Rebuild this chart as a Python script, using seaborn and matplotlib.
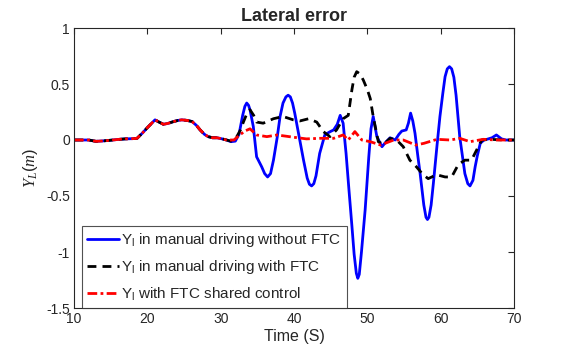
import numpy as np
import pandas as pd
import matplotlib
matplotlib.use("Agg")
import matplotlib.pyplot as plt
import seaborn as sns

# ---- data ----
early_t = [10, 11, 12, 13, 14, 15, 16, 17, 18, 18.6, 19.3, 20.0, 20.6, 21.05, 21.6, 22.2, 22.9,
           23.6, 24.2, 24.7, 25.4, 26.1, 26.7, 27.2, 27.8, 28.3, 28.9, 29.5, 30.2, 30.8]
early_y = [0.0, 0.0, 0.0, -0.012, -0.008, -0.002, 0.005, 0.01, 0.012, 0.015, 0.06, 0.11, 0.15, 0.18,
           0.16, 0.14, 0.15, 0.165, 0.175, 0.18, 0.175, 0.165, 0.13, 0.09, 0.05, 0.03, 0.02, 0.02,
           0.01, 0.0]

blue_t = early_t + [31.4, 32.0, 32.5, 33.0, 33.3, 33.55, 33.8, 34.0, 34.45, 34.9, 35.6, 36.0, 36.4,
                    36.8, 37.2, 37.7, 38.1, 38.5, 38.9, 39.2, 39.5, 39.8, 40.1, 40.7, 41.3, 41.8,
                    42.1, 42.4, 42.7, 43.0, 43.5, 44.2, 44.8, 45.4, 45.9, 46.3, 46.7, 47.1, 47.5,
                    47.9, 48.2, 48.5, 48.7, 48.9, 49.2, 49.7, 50.2, 50.5, 50.8, 51.3, 52.0, 52.5,
                    53.1, 53.8, 54.3, 54.7, 55.3, 55.6, 55.9, 56.2, 56.5, 56.9, 57.2, 57.7, 58.0,
                    58.2, 58.4, 58.7, 59.0, 59.5, 59.9, 60.3, 60.6, 60.9, 61.2, 61.5, 61.8, 62.1,
                    62.6, 63.3, 63.7, 64.0, 64.4, 64.7, 65.0, 65.4, 65.9, 66.3, 67.0, 67.6, 68.3,
                    68.9, 70.0]
blue_y = early_y + [-0.015, -0.01, 0.05, 0.22, 0.30, 0.33, 0.31, 0.27, 0.12, -0.15, -0.24, -0.3,
                    -0.33, -0.3, -0.18, 0.02, 0.21, 0.33, 0.385, 0.40, 0.385, 0.33, 0.24, 0.03,
                    -0.18, -0.34, -0.395, -0.41, -0.39, -0.32, -0.12, 0.045, 0.07, 0.09, 0.14, 0.22,
                    0.15, -0.12, -0.45, -0.77, -1.02, -1.19, -1.235, -1.2, -1.0, -0.625, -0.15, 0.1,
                    0.21, 0.03, -0.06, -0.02, 0.02, 0.0, 0.05, 0.08, 0.09, 0.15, 0.24, 0.17, 0.06,
                    -0.15, -0.30, -0.58, -0.69, -0.71, -0.69, -0.58, -0.39, -0.05, 0.21, 0.42, 0.565,
                    0.635, 0.655, 0.635, 0.56, 0.40, 0.03, -0.30, -0.39, -0.41, -0.36, -0.24, -0.14,
                    -0.03, 0.0, 0.006, 0.02, 0.045, 0.01, 0.0, 0.0]

black_t = early_t + [31.4, 32.2, 32.7, 33.1, 33.6, 34.0, 34.5, 34.9, 35.8, 36.5, 37.2, 38.5, 39.9,
                     40.8, 42.0, 43.1, 44.0, 44.9, 45.8, 46.7, 47.4, 47.9, 48.2, 48.55, 49.0, 49.45,
                     50.0, 50.4, 50.8, 51.5, 52.2, 53.1, 54.0, 54.9, 55.8, 56.7, 57.6, 58.3, 59.45,
                     60.6, 61.5, 62.4, 63.3, 64.2, 64.9, 65.6, 66.8, 68.6, 70.0]
black_y = early_y + [-0.01, 0.03, 0.09, 0.16, 0.24, 0.27, 0.22, 0.16, 0.15, 0.17, 0.19, 0.21, 0.18,
                     0.17, 0.19, 0.16, 0.075, 0.03, 0.09, 0.19, 0.22, 0.45, 0.56, 0.61, 0.59, 0.535,
                     0.45, 0.37, 0.21, -0.015, -0.04, 0.015, 0.0, -0.06, -0.18, -0.24, -0.31, -0.345,
                     -0.31, -0.33, -0.33, -0.22, -0.18, -0.18, -0.09, 0.0, 0.006, 0.0, 0.0]

red_t = early_t + [31.8, 32.6, 33.3, 34.0, 34.9, 36.3, 37.7, 39.9, 41.7, 43.5, 45.4, 46.7, 47.4,
                   48.3, 49.25, 50.4, 51.8, 53.6, 54.9, 56.6, 57.7, 59.5, 61.3, 62.6, 64.0, 65.8,
                   67.6, 70.0]
red_y = early_y + [0.0, 0.045, 0.08, 0.10, 0.045, 0.03, 0.045, 0.025, 0.01, 0.015, 0.015, 0.045,
                   0.0, 0.075, 0.0, -0.015, -0.045, 0.0, 0.0, -0.045, -0.03, 0.006, 0.0, 0.015,
                   -0.015, 0.006, 0.0, 0.0]

labels = ["Y$_\\mathregular{l}$ in manual driving without FTC",
          "Y$_\\mathregular{l}$ in manual driving with FTC",
          "Y$_\\mathregular{l}$ with FTC shared control"]
x_ticks = [10, 20, 30, 40, 50, 60, 70]
y_ticks = [-1.5, -1, -0.5, 0, 0.5, 1]
y_tick_labels = ["-1.5", "-1", "-0.5", "0", "0.5", "1"]

# ---- plotting ----
sns.set_theme(style="white")
plt.rcParams['font.family'] = ['Liberation Sans', 'DejaVu Sans']
plt.rcParams['mathtext.fontset'] = 'custom'
plt.rcParams['mathtext.rm'] = 'Liberation Sans'
plt.rcParams['mathtext.it'] = 'Liberation Serif:italic'

fig = plt.figure(figsize=(5.66, 3.56), dpi=100)
ax = fig.add_axes([74 / 566, 1 - 308 / 356, 440 / 566, 280 / 356])

sns.lineplot(x=blue_t, y=blue_y, ax=ax, color="#0000ff", lw=2.0, sort=False,
             estimator=None, label=labels[0])
sns.lineplot(x=black_t, y=black_y, ax=ax, color="black", lw=2.0, sort=False,
             estimator=None, label=labels[1], linestyle=(0, (3.2, 2.2)))
sns.lineplot(x=red_t, y=red_y, ax=ax, color="#ff0000", lw=2.0, sort=False,
             estimator=None, label=labels[2], linestyle=(0, (3.5, 1.2, 1.0, 1.2)))

ax.set_xlim(10, 70)
ax.set_ylim(-1.5, 1)
ax.set_xticks(x_ticks)
ax.set_xticklabels([str(v) for v in x_ticks])
ax.set_yticks(y_ticks)
ax.set_yticklabels(y_tick_labels)
ax.tick_params(direction="in", length=4, width=0.8, top=True, right=True,
               labelsize=10, colors="#262626", pad=3)
for s in ax.spines.values():
    s.set_color("#262626")
    s.set_linewidth(0.8)

ax.set_title("Lateral error", fontsize=13, fontweight="bold", pad=5)
ax.set_xlabel("Time (S)", fontsize=11.5, labelpad=2)
ax.set_ylabel("$Y_L(m)$", fontsize=12, labelpad=4)

leg = ax.legend(loc="lower left", bbox_to_anchor=(0.0175, 0.0), borderaxespad=0,
                fontsize=11, frameon=True, fancybox=False, handlelength=2.1,
                handletextpad=0.15, labelspacing=0.6, borderpad=0.35)
leg.get_frame().set_edgecolor("#262626")
leg.get_frame().set_linewidth(0.8)

fig.savefig("out.png", dpi=100)
